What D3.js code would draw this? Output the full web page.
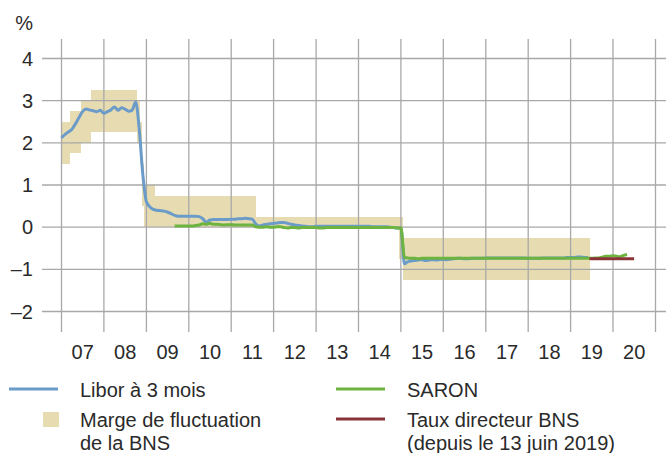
<!DOCTYPE html>
<html><head><meta charset="utf-8">
<script src="https://cdn.jsdelivr.net/npm/d3@7"></script>
<style>body{margin:0;background:#fff}svg{display:block}text{font-family:"Liberation Sans",Arial,sans-serif;fill:#2a2a2a}</style>
</head><body><svg id="c" width="666" height="453"></svg>
<script>
const yearLabels = ["07","08","09","10","11","12","13","14","15","16","17","18","19","20"];
const yTicks = [-2,-1,0,1,2,3,4];

const liborStart = "2007-01";
const liborValues = [
 2.12,2.20,2.26,2.32,2.45,2.60,2.74,2.80,2.78,2.76,2.74,2.77,
 2.70,2.74,2.78,2.85,2.77,2.83,2.80,2.75,2.78,2.97,2.30,1.25,
 0.60,0.48,0.42,0.40,0.39,0.38,0.36,0.32,0.28,0.26,0.26,0.26,
 0.26,0.26,0.26,0.25,0.20,0.12,0.17,0.18,0.18,0.18,0.18,0.18,
 0.19,0.19,0.20,0.20,0.21,0.20,0.19,0.07,0.03,0.05,0.07,0.08,
 0.09,0.10,0.11,0.11,0.09,0.07,0.05,0.04,0.03,0.02,0.01,0.01,
 0.02,0.02,0.02,0.02,0.02,0.02,0.02,0.02,0.02,0.02,0.02,0.02,
 0.02,0.02,0.02,0.02,0.01,0.01,0.01,0.01,0.01,0.00,-0.01,-0.02,
 -0.02,-0.87,-0.82,-0.80,-0.79,-0.78,-0.77,-0.79,-0.78,-0.77,-0.78,-0.77,
 -0.76,-0.77,-0.76,-0.75,-0.74,-0.74,-0.75,-0.75,-0.74,-0.74,-0.74,-0.74,
 -0.73,-0.73,-0.73,-0.73,-0.73,-0.73,-0.73,-0.73,-0.73,-0.73,-0.73,-0.73,
 -0.74,-0.74,-0.74,-0.74,-0.73,-0.73,-0.73,-0.73,-0.73,-0.73,-0.73,-0.72,
 -0.72,-0.72,-0.71,-0.71,-0.72,-0.72
];

const saronStart = "2009-09";
const saronValues = [
 0.03,0.03,0.03,0.03,
 0.03,0.03,0.04,0.05,0.08,0.07,0.09,0.07,0.07,0.06,0.05,0.06,
 0.06,0.05,0.05,0.05,0.05,0.05,0.05,0.01,0.00,0.00,0.01,0.00,
 0.00,0.01,0.01,-0.01,-0.02,-0.01,-0.01,-0.02,-0.01,-0.01,-0.01,-0.01,
 -0.01,-0.02,-0.02,-0.01,-0.01,-0.01,-0.01,-0.01,-0.01,-0.01,-0.01,-0.01,
 -0.01,-0.01,-0.01,-0.01,-0.01,-0.01,-0.01,-0.01,-0.01,-0.01,-0.01,-0.02,
 -0.02,-0.72,-0.73,-0.74,-0.74,-0.75,-0.74,-0.74,-0.74,-0.74,-0.74,-0.74,
 -0.74,-0.74,-0.74,-0.74,-0.74,-0.74,-0.74,-0.74,-0.74,-0.74,-0.74,-0.74,
 -0.74,-0.74,-0.74,-0.74,-0.74,-0.74,-0.74,-0.74,-0.74,-0.74,-0.74,-0.74,
 -0.74,-0.74,-0.74,-0.74,-0.74,-0.74,-0.74,-0.74,-0.74,-0.74,-0.74,-0.74,
 -0.74,-0.74,-0.74,-0.74,-0.74,-0.74,-0.74,-0.73,-0.73,-0.71,-0.69,-0.69,
 -0.68,-0.69,-0.70,-0.67,-0.65
];

const bandStarts = ["2007-01-01","2007-03-15","2007-06-14","2007-09-13","2008-10-08","2008-11-06","2008-11-20","2008-12-11","2009-03-12","2011-08-03","2014-12-18","2015-01-15"];
const bandEnds   = ["2007-03-15","2007-06-14","2007-09-13","2008-10-08","2008-11-06","2008-11-20","2008-12-11","2009-03-12","2011-08-03","2014-12-18","2015-01-15","2019-06-13"];
const bandLows   = [1.50,1.75,2.00,2.25,2.00,1.50,0.50,0.00,0.00,0.00,-0.75,-1.25];
const bandHighs  = [2.50,2.75,3.00,3.25,3.00,2.50,1.50,1.00,0.75,0.25,0.25,-0.25];

const policyDates = ["2019-06-13","2020-07-01"];
const policyValues = [-0.75,-0.75];

const legendLabels = [["Libor à 3 mois"],["SARON"],["Marge de fluctuation","de la BNS"],["Taux directeur BNS","(depuis le 13 juin 2019)"]];

const C = {libor:"#6b9bc9", saron:"#6cb33f", band:"#e7dcb1", policy:"#8a3438", grid:"#a8a8a8"};

const parseM = d3.timeParse("%Y-%m");
const parseD = d3.timeParse("%Y-%m-%d");
function monthly(start, vals){ const s=parseM(start); return vals.map((v,i)=>({d:d3.timeMonth.offset(s,i), v})); }
const libor = monthly(liborStart, liborValues);
const saron = monthly(saronStart, saronValues);
const band = bandStarts.map((s,i)=>({s:parseD(s), e:parseD(bandEnds[i]), lo:bandLows[i], hi:bandHighs[i]}));
const policy = policyDates.map((d,i)=>({d:parseD(d), v:policyValues[i]}));

const svg = d3.select("#c");
const x = d3.scaleTime().domain([new Date(2007,0,1), new Date(2021,0,1)]).range([61.5, 655.5]);
const y = d3.scaleLinear().domain([-2,4]).range([311.5, 58.5]);

// band
svg.append("g").selectAll("rect").data(band).join("rect")
  .attr("x", d=>x(d.s)).attr("width", d=>x(d.e)-x(d.s))
  .attr("y", d=>y(d.hi)).attr("height", d=>y(d.lo)-y(d.hi))
  .attr("fill", C.band).attr("shape-rendering","crispEdges");

// grid
const years = d3.range(2007, 2022);
svg.append("g").selectAll("line").data(years).join("line")
  .attr("x1", d=>x(new Date(d,0,1))).attr("x2", d=>x(new Date(d,0,1)))
  .attr("y1", 39).attr("y2", 332).attr("stroke", C.grid).attr("stroke-width", 1.3);
svg.append("g").selectAll("line").data(yTicks).join("line")
  .attr("x1", 42).attr("x2", 666).attr("y1", d=>y(d)).attr("y2", d=>y(d))
  .attr("stroke", C.grid).attr("stroke-width", 1.3);

// y labels
svg.append("g").selectAll("text").data(yTicks).join("text")
  .attr("x", 33).attr("y", d=>y(d)+7).attr("text-anchor","end").attr("font-size",20)
  .text(d=> d<0 ? "–"+Math.abs(d) : d);
svg.append("text").attr("x",33).attr("y",30).attr("text-anchor","end").attr("font-size",20).text("%");

// x labels
svg.append("g").selectAll("text").data(yearLabels).join("text")
  .attr("x", (d,i)=> (x(new Date(2007+i,0,1))+x(new Date(2008+i,0,1)))/2)
  .attr("y", 359).attr("text-anchor","middle").attr("font-size",20).text(d=>d);

// lines
const line = d3.line().x(d=>x(d.d)).y(d=>y(d.v)).curve(d3.curveMonotoneX);
svg.append("path").datum(libor).attr("d", line).attr("fill","none").attr("stroke",C.libor).attr("stroke-width",3).attr("stroke-linejoin","round");
svg.append("path").datum(saron).attr("d", line).attr("fill","none").attr("stroke",C.saron).attr("stroke-width",3).attr("stroke-linejoin","round");
svg.append("path").datum(policy).attr("d", d3.line().x(d=>x(d.d)).y(d=>y(d.v))).attr("fill","none").attr("stroke",C.policy).attr("stroke-width",3);

// legend
const lg = svg.append("g");
lg.append("line").attr("x1",9).attr("x2",58).attr("y1",389).attr("y2",389).attr("stroke",C.libor).attr("stroke-width",3);
lg.append("line").attr("x1",336).attr("x2",385).attr("y1",389).attr("y2",389).attr("stroke",C.saron).attr("stroke-width",3);
lg.append("rect").attr("x",43).attr("y",412).attr("width",16).attr("height",15).attr("fill",C.band);
lg.append("line").attr("x1",336).attr("x2",385).attr("y1",419).attr("y2",419).attr("stroke",C.policy).attr("stroke-width",3);
const lpos = [[80,397],[407,397],[80,427],[407,427]];
legendLabels.forEach((lines,i)=>{
  lines.forEach((t,j)=>{
    lg.append("text").attr("x",lpos[i][0]).attr("y",lpos[i][1]+j*23).attr("font-size",20).text(t);
  });
});
</script></body></html>
